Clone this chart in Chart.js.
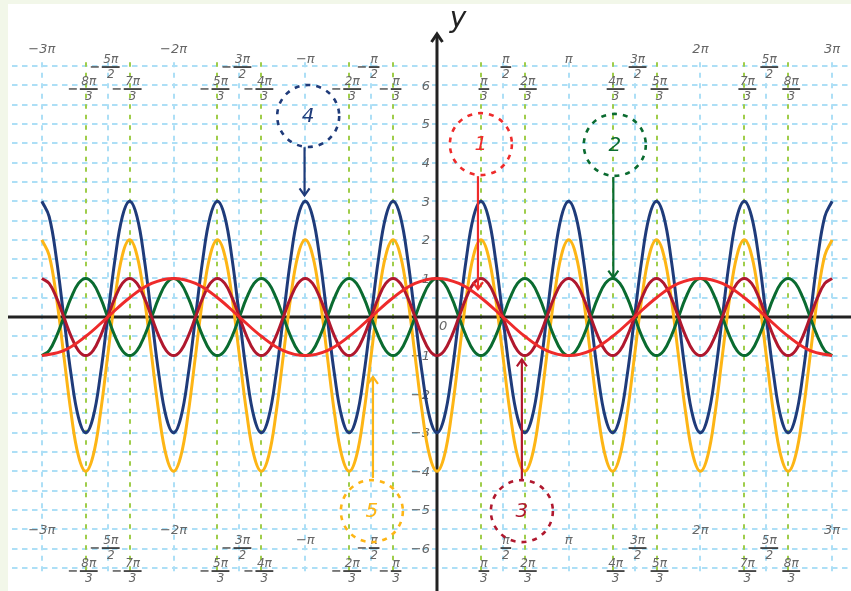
<!DOCTYPE html>
<html>
<head>
<meta charset="utf-8">
<script src="https://cdn.jsdelivr.net/npm/chart.js@4.4.1/dist/chart.umd.min.js"></script>
<style>
  html, body { margin: 0; padding: 0; background: #f2f7e9; }
  #wrap { position: absolute; left: 8px; top: 4px; width: 843px; height: 587px; background: #fff; }
</style>
</head>
<body>
<div id="wrap"><canvas id="plot" width="843" height="587"></canvas></div>
<script>
// x is measured in steps of π/18 (so π/3 = 6, π/2 = 9, π = 18)
const xFine = [
  -54, -53, -52, -51, -50, -49, -48, -47, -46, -45, -44, -43,
  -42, -41, -40, -39, -38, -37, -36, -35, -34, -33, -32, -31,
  -30, -29, -28, -27, -26, -25, -24, -23, -22, -21, -20, -19,
  -18, -17, -16, -15, -14, -13, -12, -11, -10, -9, -8, -7,
  -6, -5, -4, -3, -2, -1, 0, 1, 2, 3, 4, 5,
  6, 7, 8, 9, 10, 11, 12, 13, 14, 15, 16, 17,
  18, 19, 20, 21, 22, 23, 24, 25, 26, 27, 28, 29,
  30, 31, 32, 33, 34, 35, 36, 37, 38, 39, 40, 41,
  42, 43, 44, 45, 46, 47, 48, 49, 50, 51, 52, 53,
  54
];
const xCoarse = [
  -54, -51, -48, -45, -42, -39, -36, -33, -30, -27, -24, -21,
  -18, -15, -12, -9, -6, -3, 0, 3, 6, 9, 12, 15,
  18, 21, 24, 27, 30, 33, 36, 39, 42, 45, 48, 51,
  54
];

// y = cos x  (on xCoarse)
const redWave = [
  -1, -0.87, -0.5, 0, 0.5, 0.87, 1, 0.87, 0.5, 0, -0.5, -0.87,
  -1, -0.87, -0.5, 0, 0.5, 0.87, 1, 0.87, 0.5, 0, -0.5, -0.87,
  -1, -0.87, -0.5, 0, 0.5, 0.87, 1, 0.87, 0.5, 0, -0.5, -0.87,
  -1
];
// y = cos 3x
const greenWave = [
  -1, -0.87, -0.5, 0, 0.5, 0.87, 1, 0.87, 0.5, 0, -0.5, -0.87,
  -1, -0.87, -0.5, 0, 0.5, 0.87, 1, 0.87, 0.5, 0, -0.5, -0.87,
  -1, -0.87, -0.5, 0, 0.5, 0.87, 1, 0.87, 0.5, 0, -0.5, -0.87,
  -1, -0.87, -0.5, 0, 0.5, 0.87, 1, 0.87, 0.5, 0, -0.5, -0.87,
  -1, -0.87, -0.5, 0, 0.5, 0.87, 1, 0.87, 0.5, 0, -0.5, -0.87,
  -1, -0.87, -0.5, 0, 0.5, 0.87, 1, 0.87, 0.5, 0, -0.5, -0.87,
  -1, -0.87, -0.5, 0, 0.5, 0.87, 1, 0.87, 0.5, 0, -0.5, -0.87,
  -1, -0.87, -0.5, 0, 0.5, 0.87, 1, 0.87, 0.5, 0, -0.5, -0.87,
  -1, -0.87, -0.5, 0, 0.5, 0.87, 1, 0.87, 0.5, 0, -0.5, -0.87,
  -1
];
// y = -cos 3x
const crimsonWave = [
  1, 0.87, 0.5, 0, -0.5, -0.87, -1, -0.87, -0.5, 0, 0.5, 0.87,
  1, 0.87, 0.5, 0, -0.5, -0.87, -1, -0.87, -0.5, 0, 0.5, 0.87,
  1, 0.87, 0.5, 0, -0.5, -0.87, -1, -0.87, -0.5, 0, 0.5, 0.87,
  1, 0.87, 0.5, 0, -0.5, -0.87, -1, -0.87, -0.5, 0, 0.5, 0.87,
  1, 0.87, 0.5, 0, -0.5, -0.87, -1, -0.87, -0.5, 0, 0.5, 0.87,
  1, 0.87, 0.5, 0, -0.5, -0.87, -1, -0.87, -0.5, 0, 0.5, 0.87,
  1, 0.87, 0.5, 0, -0.5, -0.87, -1, -0.87, -0.5, 0, 0.5, 0.87,
  1, 0.87, 0.5, 0, -0.5, -0.87, -1, -0.87, -0.5, 0, 0.5, 0.87,
  1, 0.87, 0.5, 0, -0.5, -0.87, -1, -0.87, -0.5, 0, 0.5, 0.87,
  1
];
// y = -3 cos 3x
const navyWave = [
  3, 2.6, 1.5, 0, -1.5, -2.6, -3, -2.6, -1.5, 0, 1.5, 2.6,
  3, 2.6, 1.5, 0, -1.5, -2.6, -3, -2.6, -1.5, 0, 1.5, 2.6,
  3, 2.6, 1.5, 0, -1.5, -2.6, -3, -2.6, -1.5, 0, 1.5, 2.6,
  3, 2.6, 1.5, 0, -1.5, -2.6, -3, -2.6, -1.5, 0, 1.5, 2.6,
  3, 2.6, 1.5, 0, -1.5, -2.6, -3, -2.6, -1.5, 0, 1.5, 2.6,
  3, 2.6, 1.5, 0, -1.5, -2.6, -3, -2.6, -1.5, 0, 1.5, 2.6,
  3, 2.6, 1.5, 0, -1.5, -2.6, -3, -2.6, -1.5, 0, 1.5, 2.6,
  3, 2.6, 1.5, 0, -1.5, -2.6, -3, -2.6, -1.5, 0, 1.5, 2.6,
  3, 2.6, 1.5, 0, -1.5, -2.6, -3, -2.6, -1.5, 0, 1.5, 2.6,
  3
];
// y = -3 cos 3x - 1
const amberWave = [
  2, 1.6, 0.5, -1, -2.5, -3.6, -4, -3.6, -2.5, -1, 0.5, 1.6,
  2, 1.6, 0.5, -1, -2.5, -3.6, -4, -3.6, -2.5, -1, 0.5, 1.6,
  2, 1.6, 0.5, -1, -2.5, -3.6, -4, -3.6, -2.5, -1, 0.5, 1.6,
  2, 1.6, 0.5, -1, -2.5, -3.6, -4, -3.6, -2.5, -1, 0.5, 1.6,
  2, 1.6, 0.5, -1, -2.5, -3.6, -4, -3.6, -2.5, -1, 0.5, 1.6,
  2, 1.6, 0.5, -1, -2.5, -3.6, -4, -3.6, -2.5, -1, 0.5, 1.6,
  2, 1.6, 0.5, -1, -2.5, -3.6, -4, -3.6, -2.5, -1, 0.5, 1.6,
  2, 1.6, 0.5, -1, -2.5, -3.6, -4, -3.6, -2.5, -1, 0.5, 1.6,
  2, 1.6, 0.5, -1, -2.5, -3.6, -4, -3.6, -2.5, -1, 0.5, 1.6,
  2
];

// tick marks along x (steps of π/18) and their labels
const xTickSteps = [-54, -48, -45, -42, -36, -30, -27, -24, -18, -12, -9, -6,
  6, 9, 12, 18, 24, 27, 30, 36, 42, 45, 48, 54];
const xTickLabels = ['−3π', '−8π/3', '−5π/2', '−7π/3', '−2π', '−5π/3', '−3π/2', '−4π/3', '−π', '−2π/3', '−π/2', '−π/3',
  'π/3', 'π/2', '2π/3', 'π', '4π/3', '3π/2', '5π/3', '2π', '7π/3', '5π/2', '8π/3', '3π'];
const yTickValues = [-6, -5, -4, -3, -2, -1, 1, 2, 3, 4, 5, 6];

// numbered call-outs: label, circle centre, arrow from/to (x in π/18 steps)
const calloutLabels = ['1', '2', '3', '4', '5'];
const calloutSetup = [
  { color: '#ee2b2b', cx: 6.0, cy: 4.48, ax: 5.6, from: 3.65, to: 0.72 },
  { color: '#0a6b30', cx: 24.3, cy: 4.46, ax: 24.1, from: 3.63, to: 1.02 },
  { color: '#b0182e', cx: 11.6, cy: -5.03, ax: 11.6, from: -4.22, to: -1.1 },
  { color: '#1f3b7a', cx: -17.6, cy: 5.21, ax: -18.1, from: 4.4, to: 3.15 },
  { color: '#fdb515', cx: -8.9, cy: -5.03, ax: -8.75, from: -4.17, to: -1.55 },
];

const labelFont = 'italic 13px "DejaVu Sans"';
const fracFont = 'italic 12px "DejaVu Sans"';

function toPoints(xs, ys) {
  return xs.map((x, i) => ({ x: x, y: ys[i] }));
}

// grid paper, axes and tick labels go under the curves
const paperPlugin = {
  id: 'paper',
  beforeDatasetsDraw(chart) {
    const ctx = chart.ctx;
    const xs = chart.scales.x;
    const ys = chart.scales.y;
    const area = chart.chartArea;
    const X = (v) => xs.getPixelForValue(v);
    const Y = (v) => ys.getPixelForValue(v);

    ctx.save();
    ctx.lineWidth = 2;

    // horizontal dashed lines every 0.5
    ctx.strokeStyle = '#addff6';
    ctx.setLineDash([5.5, 4.5]);
    for (let v = -6.5; v <= 6.5; v += 0.5) {
      ctx.beginPath();
      ctx.moveTo(area.left, Math.round(Y(v)));
      ctx.lineTo(area.right, Math.round(Y(v)));
      ctx.stroke();
    }

    // vertical dashed lines: blue at multiples of π/2, green at π/3
    ctx.setLineDash([5, 5.5]);
    for (let s = -54; s <= 54; s += 9) {
      ctx.beginPath();
      ctx.moveTo(Math.round(X(s)), Y(6.6));
      ctx.lineTo(Math.round(X(s)), Y(-6.6));
      ctx.stroke();
    }
    ctx.strokeStyle = '#9fcd4b';
    ctx.setLineDash([4.5, 6]);
    for (let s = -48; s <= 48; s += 6) {
      if (s % 18 === 0) continue;
      ctx.beginPath();
      ctx.moveTo(Math.round(X(s)), Y(6.6));
      ctx.lineTo(Math.round(X(s)), Y(-6.6));
      ctx.stroke();
    }
    ctx.setLineDash([]);

    // axes
    ctx.strokeStyle = '#222';
    ctx.lineWidth = 3;
    ctx.beginPath();
    ctx.moveTo(0, Y(0));
    ctx.lineTo(chart.width, Y(0));
    ctx.moveTo(X(0), chart.height);
    ctx.lineTo(X(0), area.top + 1);
    ctx.stroke();
    ctx.lineJoin = 'miter';
    ctx.beginPath();
    ctx.moveTo(X(0) - 5.5, area.top + 9);
    ctx.lineTo(X(0), area.top + 1);
    ctx.lineTo(X(0) + 5.5, area.top + 9);
    ctx.stroke();

    ctx.fillStyle = '#222';
    ctx.font = 'italic 28px "DejaVu Sans"';
    ctx.textAlign = 'center';
    ctx.textBaseline = 'middle';
    ctx.fillText('y', X(0) + 21, area.top - 13);

    // y tick labels
    ctx.fillStyle = '#666';
    ctx.font = labelFont;
    ctx.textAlign = 'right';
    yTickValues.forEach((v) => {
      ctx.fillText((v < 0 ? '−' : '') + Math.abs(v), X(0) - 7, Y(v) + 1);
    });
    ctx.textAlign = 'left';
    ctx.fillText('0', X(0) + 2, Y(0) + 10);

    // x tick labels, once above and once below
    const rows = [
      { whole: 6.92, single: 6.66, half: 6.48, third: 5.91 },
      { whole: -5.54, single: -5.8, half: -5.98, third: -6.58 },
    ];
    rows.forEach((row) => {
      xTickSteps.forEach((s, i) => {
        const text = xTickLabels[i];
        const neg = text.startsWith('−');
        const body = neg ? text.slice(1) : text;
        if (body.indexOf('/') < 0) {
          ctx.font = labelFont;
          ctx.fillStyle = '#666';
          ctx.textAlign = 'center';
          const y = body === 'π' ? row.single : row.whole;
          ctx.fillText(text, X(s), Y(y));
          return;
        }
        const [num, den] = body.split('/');
        const barY = Math.round(Y(den === '2' ? row.half : row.third));
        const cx = X(s) + 3;
        ctx.font = fracFont;
        const w = Math.max(ctx.measureText(num).width, ctx.measureText(den).width) + 3;
        ctx.fillStyle = '#666';
        ctx.textAlign = 'center';
        ctx.fillText(num, cx, barY - 7);
        ctx.fillText(den, cx, barY + 8);
        ctx.fillStyle = '#333';
        ctx.fillRect(cx - w / 2, barY - 0.8, w, 1.7);
        if (neg) {
          ctx.fillStyle = '#555';
          ctx.fillRect(cx - w / 2 - 11, barY - 0.8, 8, 1.5);
        }
      });
    });
    ctx.restore();
  },

  // dashed circles with numbers and arrows on top of the curves
  afterDatasetsDraw(chart) {
    const ctx = chart.ctx;
    const X = (v) => chart.scales.x.getPixelForValue(v);
    const Y = (v) => chart.scales.y.getPixelForValue(v);
    ctx.save();
    calloutSetup.forEach((c, i) => {
      const r = 31;
      ctx.strokeStyle = c.color;
      ctx.fillStyle = c.color;
      ctx.lineWidth = 2.6;
      ctx.setLineDash([5, 6]);
      ctx.beginPath();
      ctx.arc(X(c.cx), Y(c.cy), r, 0, Math.PI * 2);
      ctx.stroke();
      ctx.setLineDash([]);

      ctx.font = 'italic 20px "DejaVu Sans"';
      ctx.textAlign = 'center';
      ctx.textBaseline = 'middle';
      ctx.fillText(calloutLabels[i], X(c.cx), Y(c.cy) + 1);

      const ax = X(c.ax);
      const y1 = Y(c.from);
      const y2 = Y(c.to);
      const dir = y2 > y1 ? 1 : -1;
      ctx.lineWidth = 2.2;
      ctx.beginPath();
      ctx.moveTo(ax, y1);
      ctx.lineTo(ax, y2);
      ctx.stroke();
      ctx.beginPath();
      ctx.moveTo(ax - 5, y2 - dir * 7);
      ctx.lineTo(ax, y2);
      ctx.lineTo(ax + 5, y2 - dir * 7);
      ctx.stroke();
    });
    ctx.restore();
  },
};

const lineStyle = {
  borderWidth: 3,
  pointRadius: 0,
  tension: 0.4,
  fill: false,
};

new Chart(document.getElementById('plot').getContext('2d'), {
  type: 'line',
  data: {
    datasets: [
      { ...lineStyle, label: 'cos x', data: toPoints(xCoarse, redWave), borderColor: '#ee2b2b', order: 1 },
      { ...lineStyle, label: '-cos 3x', data: toPoints(xFine, crimsonWave), borderColor: '#b0182e', order: 2 },
      { ...lineStyle, label: 'cos 3x', data: toPoints(xFine, greenWave), borderColor: '#0a6b30', order: 3 },
      { ...lineStyle, label: '-3cos 3x', data: toPoints(xFine, navyWave), borderColor: '#1f3b7a', order: 4 },
      { ...lineStyle, label: '-3cos 3x - 1', data: toPoints(xFine, amberWave), borderColor: '#fdb515', order: 5 },
    ],
  },
  options: {
    animation: false,
    responsive: false,
    devicePixelRatio: 1,
    events: [],
    layout: { padding: { left: 4, top: 29, right: 0, bottom: 0 } },
    plugins: { legend: { display: false }, tooltip: { enabled: false } },
    scales: {
      x: { type: 'linear', min: -58.08, max: 56.58, display: false },
      y: { type: 'linear', min: -7.1, max: 7.36, display: false },
    },
  },
  plugins: [paperPlugin],
});
</script>
</body>
</html>
